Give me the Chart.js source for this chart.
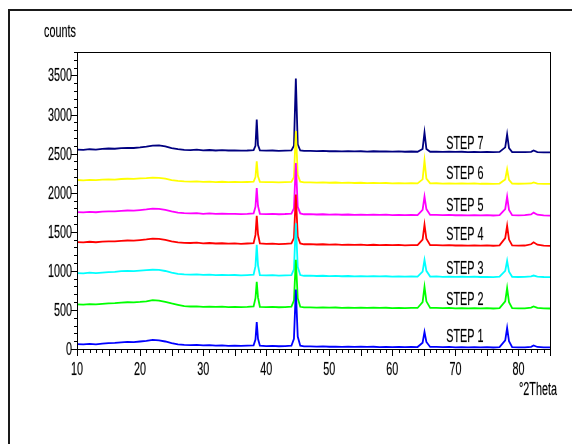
<!DOCTYPE html>
<html>
<head>
<meta charset="utf-8">
<script src="https://cdn.jsdelivr.net/npm/chart.js@4.4.0/dist/chart.umd.min.js"></script>
<style>
  html, body { margin: 0; padding: 0; background: #fff; }
  canvas { display: block; }
</style>
</head>
<body>
<canvas id="xrdChart" width="572" height="444"></canvas>
<script>
// 2theta positions (denser around the peaks)
const twoTheta = [10, 11, 12, 13, 14, 15, 16, 17, 18, 19,
  20, 21, 22, 23, 24, 25, 26, 27, 28, 29,
  30, 31, 32, 33, 34, 35, 36, 37, 38, 38.3, 38.5, 38.7, 39,
  40, 41, 42, 43, 44, 44.4, 44.7, 45, 45.4, 46, 47, 48, 49,
  50, 51, 52, 53, 54, 55, 56, 57, 58, 59,
  60, 61, 62, 63, 64, 64.8, 65.1, 65.4, 66, 67, 68, 69,
  70, 71, 72, 73, 74, 75, 76, 77, 77.9, 78.2, 78.5, 79,
  80, 81, 82, 82.4, 83, 84, 85];

// counts, one array per step
const step1 = [62, 58, 66, 60, 70, 74, 78, 86, 90, 88,
  96, 104, 116, 110, 96, 76, 60, 54, 50, 52,
  46, 49, 43, 46, 41, 44, 39, 42, 46, 120, 346, 130, 42,
  38, 40, 35, 38, 42, 130, 760, 160, 42, 33, 34, 30, 33,
  29, 31, 27, 30, 27, 29, 26, 29, 25, 28,
  24, 27, 23, 26, 25, 80, 218, 90, 26, 27, 23, 26,
  22, 25, 21, 24, 20, 23, 19, 24, 110, 270, 100, 23,
  20, 22, 28, 45, 26, 20, 20];
const step2 = [572, 568, 575, 570, 578, 584, 588, 594, 598, 596,
  602, 610, 626, 620, 604, 584, 566, 548, 544, 546,
  540, 543, 538, 541, 537, 540, 536, 539, 544, 650, 860, 660, 540,
  536, 538, 534, 537, 542, 620, 1140, 650, 540, 532, 533, 530, 533,
  529, 531, 527, 530, 527, 529, 526, 529, 525, 528,
  524, 527, 523, 526, 525, 600, 795, 610, 525, 526, 522, 525,
  521, 524, 520, 523, 519, 522, 518, 523, 610, 780, 600, 522,
  519, 521, 530, 545, 526, 519, 518];
const step3 = [972, 968, 976, 970, 978, 984, 988, 996, 1000, 996,
  1002, 1008, 1014, 1012, 998, 978, 962, 954, 952, 955,
  948, 952, 946, 949, 944, 947, 942, 946, 950, 1060, 1333, 1070, 946,
  942, 944, 939, 942, 946, 1020, 1610, 1050, 946, 937, 938, 934, 937,
  933, 935, 931, 934, 930, 933, 929, 932, 928, 931,
  927, 930, 926, 929, 927, 990, 1140, 1000, 927, 928, 924, 927,
  923, 926, 922, 925, 921, 924, 920, 925, 1000, 1128, 990, 924,
  921, 923, 930, 940, 927, 921, 920];
const step4 = [1368, 1364, 1372, 1366, 1374, 1378, 1376, 1384, 1388, 1386,
  1394, 1402, 1412, 1410, 1396, 1378, 1364, 1358, 1356, 1360,
  1352, 1356, 1350, 1353, 1348, 1351, 1346, 1350, 1354, 1460, 1705, 1470, 1350,
  1346, 1348, 1343, 1346, 1350, 1420, 1975, 1440, 1350, 1340, 1341, 1337, 1340,
  1336, 1338, 1333, 1336, 1332, 1335, 1330, 1334, 1330, 1332,
  1328, 1331, 1327, 1330, 1328, 1400, 1590, 1410, 1328, 1329, 1325, 1328,
  1324, 1327, 1323, 1326, 1322, 1325, 1321, 1326, 1420, 1577, 1400, 1325,
  1322, 1324, 1340, 1365, 1335, 1322, 1320];
const step5 = [1752, 1748, 1755, 1750, 1758, 1762, 1760, 1768, 1772, 1770,
  1778, 1786, 1796, 1794, 1780, 1760, 1745, 1738, 1735, 1738,
  1730, 1734, 1728, 1732, 1728, 1730, 1726, 1729, 1734, 1820, 2060, 1830, 1730,
  1726, 1728, 1724, 1727, 1732, 1800, 2380, 1820, 1735, 1724, 1725, 1721, 1724,
  1720, 1723, 1718, 1721, 1717, 1720, 1716, 1719, 1715, 1718,
  1714, 1717, 1713, 1716, 1714, 1780, 1950, 1790, 1715, 1716, 1712, 1715,
  1711, 1714, 1710, 1713, 1709, 1712, 1708, 1713, 1790, 1950, 1780, 1712,
  1709, 1712, 1722, 1745, 1718, 1709, 1707];
const step6 = [2162, 2158, 2164, 2160, 2166, 2170, 2168, 2175, 2178, 2176,
  2182, 2186, 2192, 2190, 2180, 2162, 2150, 2144, 2142, 2145,
  2138, 2142, 2136, 2140, 2136, 2138, 2134, 2137, 2140, 2200, 2400, 2210, 2138,
  2134, 2136, 2132, 2135, 2138, 2200, 2790, 2230, 2140, 2132, 2133, 2128, 2131,
  2127, 2130, 2125, 2128, 2124, 2127, 2122, 2126, 2122, 2124,
  2120, 2123, 2119, 2122, 2119, 2170, 2410, 2180, 2120, 2121, 2117, 2120,
  2116, 2119, 2115, 2118, 2114, 2117, 2113, 2117, 2170, 2300, 2165, 2116,
  2114, 2116, 2118, 2132, 2115, 2113, 2112];
const step7 = [2552, 2548, 2556, 2550, 2560, 2565, 2562, 2570, 2574, 2572,
  2580, 2590, 2602, 2606, 2592, 2570, 2556, 2548, 2545, 2550,
  2542, 2546, 2540, 2544, 2540, 2542, 2538, 2540, 2545, 2600, 2935, 2610, 2542,
  2538, 2540, 2535, 2538, 2540, 2600, 3460, 2620, 2540, 2535, 2536, 2532, 2535,
  2530, 2533, 2528, 2532, 2528, 2530, 2526, 2530, 2527, 2528,
  2525, 2528, 2524, 2527, 2524, 2560, 2770, 2560, 2524, 2526, 2522, 2525,
  2522, 2524, 2520, 2523, 2520, 2522, 2518, 2522, 2580, 2745, 2570, 2520,
  2518, 2520, 2522, 2540, 2520, 2517, 2515];

const stepNames = ['STEP 1', 'STEP 2', 'STEP 3', 'STEP 4', 'STEP 5', 'STEP 6', 'STEP 7'];
const stepSeries = [step1, step2, step3, step4, step5, step6, step7];
const stepColors = ['#0000ff', '#00ff00', '#00ffff', '#ff0000', '#ff00ff', '#ffff00', '#000080'];
// where the STEP labels sit, in data units
const stepLabelX = 71.5;
const stepLabelY = [166, 640, 1036, 1471, 1842, 2256, 2636];

const xTickLabels = ['10', '20', '30', '40', '50', '60', '70', '80'];
const yTickLabels = ['0', '500', '1000', '1500', '2000', '2500', '3000', '3500'];

// the original uses a tall, very condensed font
const SQUEEZE = 0.6;
function squeezedText(ctx, text, x, y, align, size) {
  ctx.save();
  ctx.font = size + 'px "Liberation Sans", Arial, sans-serif';
  ctx.fillStyle = '#000';
  ctx.strokeStyle = 'rgba(0,0,0,0.35)';
  ctx.lineWidth = 0.5;
  ctx.textAlign = align;
  ctx.textBaseline = 'alphabetic';
  ctx.translate(x, y);
  ctx.scale(SQUEEZE, 1);
  ctx.fillText(text, 0, 0);
  ctx.strokeText(text, 0, 0);
  ctx.restore();
}

const xrdDecor = {
  id: 'xrdDecor',
  beforeDraw(chart) {
    const ctx = chart.ctx;
    ctx.save();
    ctx.fillStyle = '#fff';
    ctx.fillRect(0, 0, chart.width, chart.height);
    ctx.fillStyle = '#1a1a1a';
    ctx.fillRect(8, 9, 2, chart.height); // outer frame, left
    ctx.fillRect(8, 9, chart.width, 2);  // outer frame, top
    ctx.restore();
  },
  afterDraw(chart) {
    const { ctx, chartArea: a, scales: { x, y } } = chart;
    ctx.save();
    ctx.strokeStyle = '#000';
    ctx.lineWidth = 1;
    ctx.strokeRect(a.left + 0.5, a.top + 0.5, a.right - a.left, a.bottom - a.top);
    ctx.beginPath();
    for (let v = 10; v <= 85; v++) {
      const px = Math.round(x.getPixelForValue(v)) + 0.5;
      const len = v % 5 === 0 ? 7 : 4;
      ctx.moveTo(px, a.bottom);
      ctx.lineTo(px, a.bottom + len);
    }
    for (let v = 0; v <= 3800; v += 100) {
      const py = Math.round(y.getPixelForValue(v)) + 0.5;
      const len = v % 500 === 0 ? 6 : 3;
      ctx.moveTo(a.left, py);
      ctx.lineTo(a.left - len, py);
    }
    ctx.stroke();
    ctx.restore();

    xTickLabels.forEach(t => squeezedText(ctx, t, x.getPixelForValue(+t), a.bottom + 26, 'center', 18));
    yTickLabels.forEach(t => squeezedText(ctx, t, a.left - 5, y.getPixelForValue(+t) + 6, 'right', 18));
    squeezedText(ctx, 'counts', 44, 37, 'left', 18);
    squeezedText(ctx, '°2Theta', 519, 395, 'left', 18);
    stepNames.forEach((n, i) =>
      squeezedText(ctx, n, x.getPixelForValue(stepLabelX), y.getPixelForValue(stepLabelY[i]) + 6, 'center', 18));
  }
};

const ctx = document.getElementById('xrdChart').getContext('2d');
const chart = new Chart(ctx, {
  type: 'line',
  data: {
    datasets: stepSeries.map((s, i) => ({
      label: stepNames[i],
      data: s.map((c, j) => ({ x: twoTheta[j], y: c })),
      borderColor: stepColors[i],
      borderWidth: 1.8,
      pointRadius: 0,
      fill: false,
      tension: 0
    }))
  },
  options: {
    responsive: false,
    animation: false,
    devicePixelRatio: 1,
    layout: { padding: { left: 0, top: 52, right: 22, bottom: 75 } },
    scales: {
      x: {
        type: 'linear',
        min: 10,
        max: 85,
        grid: { display: false },
        border: { display: true, color: '#000' },
        ticks: { display: false },
        afterFit(s) { s.height = 20; }
      },
      y: {
        min: 0,
        max: 3800,
        grid: { display: false },
        border: { display: true, color: '#000' },
        ticks: { display: false },
        afterFit(s) { s.width = 77; }
      }
    },
    plugins: {
      legend: { display: false },
      tooltip: { enabled: false }
    }
  },
  plugins: [xrdDecor]
});
</script>
</body>
</html>
